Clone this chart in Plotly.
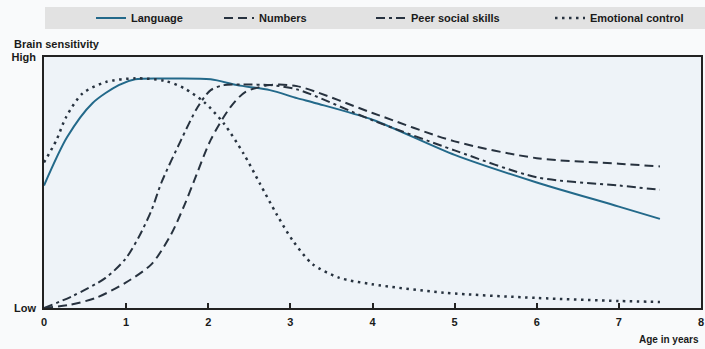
import plotly.graph_objects as go

# Age in years (x) and brain sensitivity (0 = Low, 1 = High)
lang_x = [0, 0.28, 0.59, 0.91, 1.11, 1.5, 2.03, 2.35, 2.75, 3.08, 3.31, 4, 5, 6, 7, 7.5]
lang_y = [0.488, 0.68, 0.816, 0.888, 0.911, 0.914, 0.911, 0.888, 0.868, 0.836, 0.816, 0.75, 0.61, 0.50, 0.404, 0.355]

num_x = [0, 0.3, 0.63, 0.99, 1.31, 1.55, 1.71, 1.83, 2.03, 2.27, 2.45, 2.75, 3.08, 4, 5, 6, 7, 7.5]
num_y = [0.0, 0.012, 0.04, 0.10, 0.175, 0.295, 0.41, 0.508, 0.67, 0.80, 0.86, 0.888, 0.884, 0.777, 0.664, 0.597, 0.575, 0.564]

peer_x = [0, 0.35, 0.75, 0.99, 1.15, 1.31, 1.43, 1.67, 1.87, 2.03, 2.19, 2.43, 2.75, 3.08, 4, 5, 6, 7, 7.5]
peer_y = [0.0, 0.048, 0.12, 0.195, 0.28, 0.39, 0.50, 0.67, 0.80, 0.868, 0.888, 0.89, 0.888, 0.871, 0.748, 0.628, 0.521, 0.488, 0.471]

emo_x = [0, 0.15, 0.27, 0.47, 0.75, 1.11, 1.47, 1.71, 1.95, 2.19, 2.43, 2.63, 2.83, 3.03, 3.27, 3.59, 3.99, 4.87, 6, 7, 7.5]
emo_y = [0.58, 0.668, 0.761, 0.855, 0.90, 0.915, 0.905, 0.875, 0.82, 0.735, 0.615, 0.495, 0.375, 0.268, 0.175, 0.121, 0.095, 0.061, 0.04, 0.028, 0.024]

x_ticks = [0, 1, 2, 3, 4, 5, 6, 7, 8]
y_ticks = [0, 1]
y_labels = ["Low", "High"]

FONT = "Liberation Sans, Arial, sans-serif"
DARK = "#27323f"
BLUE = "#23698a"
TXT = "#1a1a1a"


def bold(size):
    return dict(family=FONT, size=size, color=TXT, weight="bold")


fig = go.Figure()
fig.add_trace(go.Scatter(x=lang_x, y=lang_y, mode="lines", name="Language",
                         line=dict(color=BLUE, width=2, shape="spline", smoothing=0.8),
                         legend="legend"))
fig.add_trace(go.Scatter(x=num_x, y=num_y, mode="lines", name="Numbers",
                         line=dict(color=DARK, width=2, dash="9px,5px", shape="spline", smoothing=0.8),
                         legend="legend2"))
fig.add_trace(go.Scatter(x=peer_x, y=peer_y, mode="lines", name="Peer social skills",
                         line=dict(color=DARK, width=2, dash="9px,4px,3px,4px", shape="spline", smoothing=0.8),
                         legend="legend3"))
fig.add_trace(go.Scatter(x=emo_x, y=emo_y, mode="lines", name="Emotional control",
                         line=dict(color=DARK, width=2.5, dash="2.5px,4.5px", shape="spline", smoothing=0.8),
                         legend="legend4"))

legend_common = dict(orientation="h", xref="container", yref="container", xanchor="left",
                     yanchor="middle", y=1 - 18 / 349, bgcolor="rgba(0,0,0,0)",
                     font=bold(11))
text_starts = [131, 259, 411, 590]
lay = {}
for i, ts in enumerate(text_starts):
    key = "legend" if i == 0 else f"legend{i+1}"
    lay[key] = dict(legend_common, x=(ts - 40) / 705)

fig.update_layout(
    width=705, height=349,
    margin=dict(l=44, r=2, t=57, b=41),
    paper_bgcolor="#f9fafb",
    plot_bgcolor="#eef3f8",
    font=bold(11),
    showlegend=True,
    **lay,
    xaxis=dict(range=[0, 8], tickvals=x_ticks, ticks="inside", ticklen=5, tickwidth=1.5,
               tickcolor="#222", showline=True, linecolor="#222", linewidth=1.5, mirror=True,
               showgrid=False, zeroline=False, ticklabelstandoff=3,
               tickfont=bold(11)),
    yaxis=dict(range=[0, 1], tickvals=y_ticks, ticktext=y_labels, ticks="",
               showline=True, linecolor="#222", linewidth=1.5, mirror=True,
               showgrid=False, zeroline=False, ticklabelstandoff=4,
               tickfont=bold(11)),
    shapes=[dict(type="rect", xref="paper", yref="paper", x0=(45 - 44) / 659, x1=1.01,
                 y0=1 + (57 - 29) / 251, y1=1 + (57 - 7) / 251,
                 fillcolor="#e2e2e2", line=dict(width=0), layer="below")],
    annotations=[
        dict(text="Brain sensitivity", xref="paper", yref="paper",
             x=-32 / 659, y=1 + (57 - 44) / 251, xanchor="left", yanchor="middle",
             showarrow=False, font=bold(11)),
        dict(text="Age in years", xref="paper", yref="paper",
             x=1.0, y=-(339 - 308) / 251, xanchor="right", yanchor="middle",
             showarrow=False, font=bold(10)),
    ],
)

fig.write_html("out.html", config={"displayModeBar": False},
               post_script="document.body.style.margin='0';")
